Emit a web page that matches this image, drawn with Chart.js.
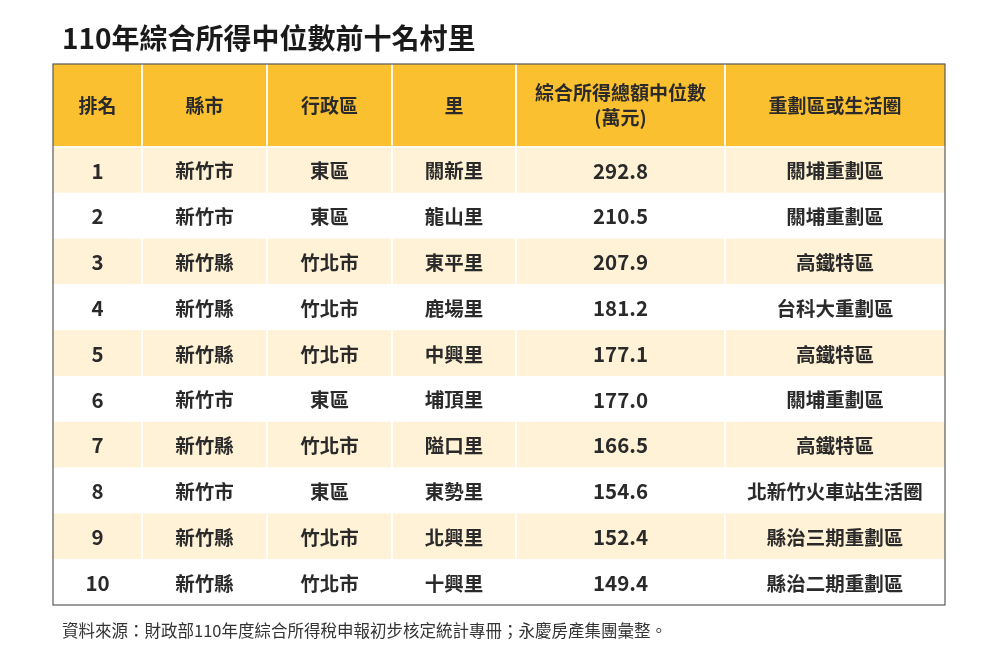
<!DOCTYPE html>
<html>
<head>
<meta charset="utf-8">
<script src="https://cdn.jsdelivr.net/npm/chart.js@4/dist/chart.umd.min.js"></script>
<style>
  html, body { margin: 0; padding: 0; background: #fff; }
  #wrap { width: 1000px; height: 667px; }
</style>
</head>
<body>
<div id="wrap"><canvas id="table"></canvas></div>
<script>
// table content
const headers = ['排名', '縣市', '行政區', '里', '綜合所得總額中位數\n(萬元)', '重劃區或生活圈'];
const ranks = ['1', '2', '3', '4', '5', '6', '7', '8', '9', '10'];
const counties = ['新竹市', '新竹市', '新竹縣', '新竹縣', '新竹縣', '新竹市', '新竹縣', '新竹市', '新竹縣', '新竹縣'];
const districts = ['東區', '東區', '竹北市', '竹北市', '竹北市', '東區', '竹北市', '東區', '竹北市', '竹北市'];
const villages = ['關新里', '龍山里', '東平里', '鹿場里', '中興里', '埔頂里', '隘口里', '東勢里', '北興里', '十興里'];
const medianIncome = [292.8, 210.5, 207.9, 181.2, 177.1, 177.0, 166.5, 154.6, 152.4, 149.4];
const zones = ['關埔重劃區', '關埔重劃區', '高鐵特區', '台科大重劃區', '高鐵特區', '關埔重劃區', '高鐵特區', '北新竹火車站生活圈', '縣治三期重劃區', '縣治二期重劃區'];

const titleText = '110年綜合所得中位數前十名村里';
const sourceText = '資料來源：財政部110年度綜合所得稅申報初步核定統計專冊；永慶房產集團彙整。';

// layout (scale units)
const colEdges = [0, 89, 214, 339, 463, 672, 892];
const headerH = 83;
const rowH = 45.8;
const tableH = headerH + rowH * ranks.length;

const FONT = '"Noto Sans CJK TC", "Noto Sans CJK SC", sans-serif';

const tablePlugin = {
  id: 'tablePlugin',
  beforeDatasetsDraw(chart) {
    const { ctx, scales: { x, y } } = chart;
    const px = v => x.getPixelForValue(v);
    const py = v => y.getPixelForValue(v);
    const left = px(0), right = px(colEdges[colEdges.length - 1]);

    ctx.save();
    // header background
    ctx.fillStyle = '#fbc02f';
    ctx.fillRect(left, py(0), right - left, py(headerH) - py(0));
    // rows
    for (let i = 0; i < ranks.length; i++) {
      const top = py(headerH + i * rowH), bot = py(headerH + (i + 1) * rowH);
      ctx.fillStyle = i % 2 === 0 ? '#fff2d6' : '#ffffff';
      ctx.fillRect(left, top, right - left, bot - top);
    }
    // white column separators
    ctx.strokeStyle = 'rgba(255,255,255,0.9)';
    ctx.lineWidth = 2;
    for (let c = 1; c < colEdges.length - 1; c++) {
      ctx.beginPath();
      ctx.moveTo(px(colEdges[c]), py(0));
      ctx.lineTo(px(colEdges[c]), py(tableH));
      ctx.stroke();
    }
    ctx.beginPath();
    ctx.moveTo(left, py(headerH));
    ctx.lineTo(right, py(headerH));
    ctx.stroke();

    // outer border
    ctx.strokeStyle = '#5a5a5a';
    ctx.lineWidth = 1.2;
    ctx.strokeRect(left, py(0), right - left, py(tableH) - py(0));

    // header text
    ctx.fillStyle = '#2a2a2a';
    ctx.textAlign = 'center';
    ctx.textBaseline = 'middle';
    ctx.font = 'bold 19px ' + FONT;
    headers.forEach((h, c) => {
      const cx = px((colEdges[c] + colEdges[c + 1]) / 2);
      const lines = h.split('\n');
      const cy = py(headerH / 2);
      lines.forEach((ln, k) => {
        ctx.fillText(ln, cx, cy + (k - (lines.length - 1) / 2) * 25);
      });
    });

    // body text
    const cols = [ranks, counties, districts, villages, medianIncome.map(v => v.toFixed(1)), zones];
    for (let i = 0; i < ranks.length; i++) {
      const cy = py(headerH + (i + 0.5) * rowH);
      cols.forEach((col, c) => {
        const cx = px((colEdges[c] + colEdges[c + 1]) / 2);
        ctx.font = (c === 0 || c === 4 ? 'bold 20.5px ' : 'bold 19.5px ') + FONT;
        ctx.fillText(col[i], cx, cy + 1);
      });
    }

    // title and source
    ctx.textAlign = 'left';
    ctx.fillStyle = '#1a1a1a';
    ctx.font = 'bold 28px ' + FONT;
    ctx.fillText(titleText, 62, 38);
    ctx.fillStyle = '#333';
    ctx.font = '16.5px ' + FONT;
    ctx.fillText(sourceText, 62, 631);
    ctx.restore();
  }
};

new Chart(document.getElementById('table'), {
  type: 'bar',
  data: {
    labels: ranks,
    datasets: [{ data: [], backgroundColor: 'transparent' }]
  },
  options: {
    responsive: true,
    maintainAspectRatio: false,
    animation: false,
    layout: { padding: { left: 53, right: 55, top: 64, bottom: 62 } },
    plugins: { legend: { display: false }, tooltip: { enabled: false } },
    scales: {
      x: { type: 'linear', offset: false, min: 0, max: colEdges[colEdges.length - 1], display: false },
      y: { type: 'linear', offset: false, min: 0, max: tableH, reverse: true, display: false }
    }
  },
  plugins: [tablePlugin]
});
</script>
</body>
</html>
